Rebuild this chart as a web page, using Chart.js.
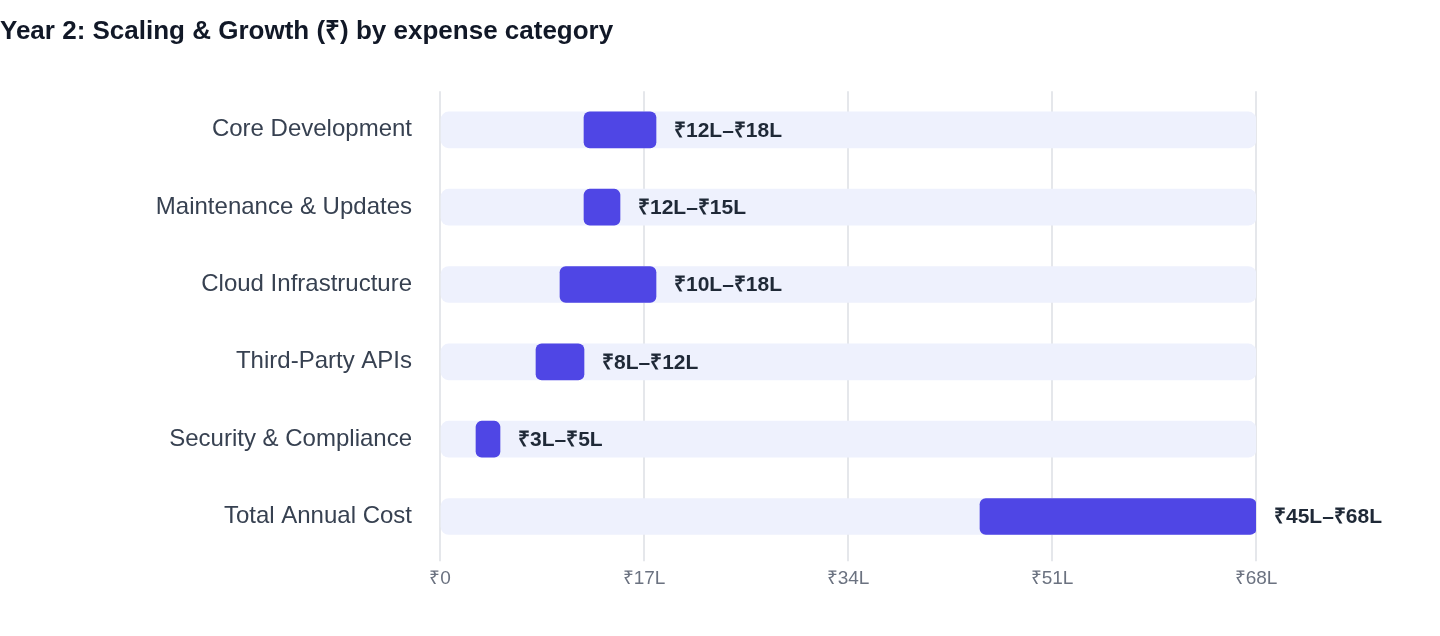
<!DOCTYPE html>
<html>
<head>
<meta charset="utf-8">
<script src="https://cdn.jsdelivr.net/npm/chart.js@4"></script>
<style>
  body { margin: 0; background: #fff; }
  #wrap { width: 1440px; height: 636px; position: relative; }
</style>
</head>
<body>
<div id="wrap"><canvas id="costChart"></canvas></div>
<script>
// Year 2 cost ranges, in lakh rupees
const categories = ['Core Development', 'Maintenance & Updates', 'Cloud Infrastructure', 'Third-Party APIs', 'Security & Compliance', 'Total Annual Cost'];
const lowValues = [12, 12, 10, 8, 3, 45];
const highValues = [18, 15, 18, 12, 5, 68];
const rangeLabels = ['₹12L–₹18L', '₹12L–₹15L', '₹10L–₹18L', '₹8L–₹12L', '₹3L–₹5L', '₹45L–₹68L'];
const axisMax = 68;
const tickValues = [0, 17, 34, 51, 68];

const FONT = 'Helvetica, Arial, "Liberation Sans", sans-serif';

// value text to the right of each bar
const rangeLabelPlugin = {
    id: 'rangeLabels',
    afterDatasetsDraw(chart) {
        const ctx = chart.ctx;
        const meta = chart.getDatasetMeta(1);
        ctx.save();
        ctx.font = 'bold 21px ' + FONT;
        ctx.fillStyle = '#1f2937';
        ctx.textBaseline = 'middle';
        meta.data.forEach((bar, i) => {
            ctx.fillText(rangeLabels[i], bar.x + 18, bar.y + 1);
        });
        ctx.restore();
    }
};

new Chart(document.getElementById('costChart'), {
    type: 'bar',
    data: {
        labels: categories,
        datasets: [
            {
                label: 'track',
                data: categories.map(() => [0, axisMax]),
                backgroundColor: '#eef1fd',
                borderRadius: 8,
                borderSkipped: false,
                barThickness: 36,
                grouped: false,
                order: 2
            },
            {
                label: 'range',
                data: lowValues.map((lo, i) => [lo, highValues[i]]),
                backgroundColor: '#4f46e5',
                borderRadius: 6,
                borderSkipped: false,
                barThickness: 36,
                grouped: false,
                order: 1
            }
        ]
    },
    options: {
        indexAxis: 'y',
        responsive: true,
        maintainAspectRatio: false,
        animation: false,
        layout: { padding: { left: 0, right: 184, top: 0, bottom: 40 } },
        plugins: {
            legend: { display: false },
            tooltip: { enabled: false },
            title: {
                display: true,
                text: 'Year 2: Scaling & Growth (₹) by expense category',
                align: 'start',
                color: '#111827',
                font: { family: FONT, size: 26, weight: 'bold' },
                padding: { top: 16, bottom: 44 }
            }
        },
        scales: {
            x: {
                min: 0,
                max: axisMax,
                afterBuildTicks(axis) {
                    axis.ticks = tickValues.map(v => ({ value: v }));
                },
                ticks: {
                    color: '#6b7280',
                    font: { family: FONT, size: 19 },
                    padding: 6,
                    callback: v => v === 0 ? '₹0' : '₹' + v + 'L'
                },
                grid: { color: '#e5e7eb', lineWidth: 2, tickLength: 6 },
                border: { display: false }
            },
            y: {
                afterFit(axis) { axis.width = 440; },
                ticks: {
                    color: '#374151',
                    font: { family: FONT, size: 24 },
                    padding: 20
                },
                grid: { display: false },
                border: { display: false }
            }
        }
    },
    plugins: [rangeLabelPlugin]
});
</script>
</body>
</html>
